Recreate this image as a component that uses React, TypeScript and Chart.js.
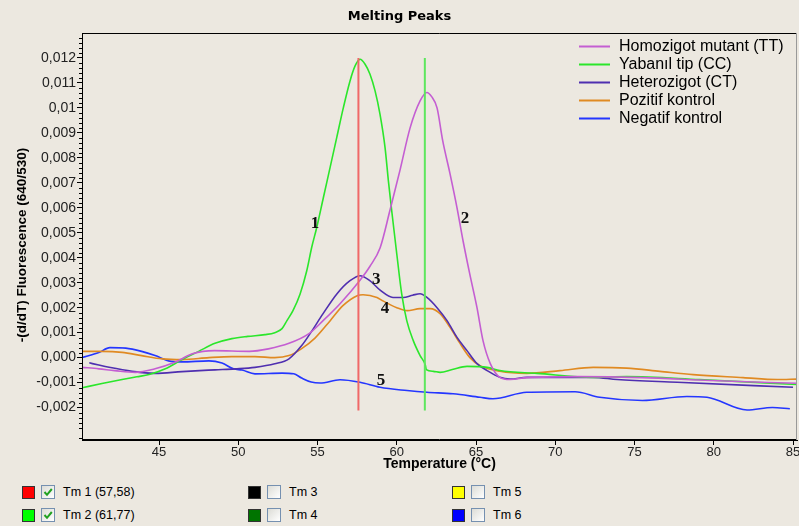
import React, { useEffect, useRef } from "react";
import { Chart, registerables } from "chart.js";

Chart.register(...registerables);

// ---------- axis data ----------
const xMin = 40.14;
const xMax = 85.25;
const yMin = -0.0033;
const yMax = 0.013;
const xTicks = [45, 50, 55, 60, 65, 70, 75, 80, 85];
const yTickValues = [-0.002, -0.001, 0, 0.001, 0.002, 0.003, 0.004, 0.005, 0.006, 0.007, 0.008, 0.009, 0.01, 0.011, 0.012];
const yTickLabels = ["-0,002", "-0,001", "0,000", "0,001", "0,002", "0,003", "0,004", "0,005", "0,006", "0,007", "0,008", "0,009", "0,01", "0,011", "0,012"];

// ---------- series ----------
const seriesNames = ["Homozigot mutant (TT)", "Yabanıl tip (CC)", "Heterozigot (CT)", "Pozitif kontrol", "Negatif kontrol"];
const seriesColors = ["#C45ED2", "#2BE62B", "#4F2FB0", "#E08A22", "#2436FF"];

const homozigotT = [40.14, 41.2, 42.2, 43.5, 44.75, 46.0, 47.1, 48.5, 50.7, 51.9, 53.2, 54.46, 55.35, 56.42, 57.68, 58.3, 58.95, 59.57, 60.2, 60.84, 61.47, 61.9, 62.2, 62.54, 62.9, 63.36, 63.8, 64.18, 64.6, 65.06, 65.44, 65.9, 66.5, 67.15, 68.2, 71.4, 75.5, 79.8, 85.25];
const homozigotV = [-0.00039, -0.00045, -0.00052, -0.00059, -0.00045, -0.00019, 0.00015, 0.00028, 0.00025, 0.00035, 0.00057, 0.00096, 0.00148, 0.00216, 0.0031, 0.00365, 0.0044, 0.0059, 0.0075, 0.0092, 0.01028, 0.01062, 0.01045, 0.01, 0.00868, 0.00736, 0.006, 0.00468, 0.00336, 0.002, 0.00068, -0.00024, -0.00079, -0.00088, -0.0008, -0.00076, -0.0008, -0.00092, -0.00103];

const yabanilT = [40.14, 41.4, 42.67, 43.6, 44.37, 45.4, 46.45, 47.5, 48.53, 49.6, 50.6, 51.69, 52.3, 52.76, 53.07, 53.45, 53.9, 54.32, 54.63, 54.95, 55.37, 55.79, 56.21, 56.63, 57.05, 57.37, 57.68, 58.0, 58.31, 58.63, 58.94, 59.26, 59.47, 59.68, 60.0, 60.31, 60.63, 61.04, 61.47, 61.8, 61.86, 62.3, 62.73, 63.5, 64.43, 65.7, 66.5, 68.85, 72.4, 74.5, 79.1, 85.25];
const yabanilV = [-0.00121, -0.00104, -0.00088, -0.00077, -0.00068, -0.00045, -0.00008, 0.00025, 0.00057, 0.00076, 0.00085, 0.00092, 0.001, 0.00116, 0.00148, 0.00188, 0.00255, 0.00348, 0.00441, 0.00521, 0.00641, 0.00761, 0.00881, 0.01001, 0.01108, 0.01168, 0.01195, 0.01175, 0.01135, 0.01068, 0.00975, 0.00841, 0.00708, 0.00588, 0.00415, 0.00255, 0.00148, 0.00068, 0.00008, -0.0003, -0.00048, -0.00055, -0.00059, -0.00048, -0.00035, -0.00039, -0.00052, -0.00063, -0.00079, -0.00076, -0.00088, -0.00108];

const heterozigotT = [40.6, 41.2, 41.85, 43.3, 44.75, 46.45, 48.53, 49.8, 51.05, 52.3, 53.2, 54.0, 54.53, 55.35, 56.23, 57.05, 57.68, 58.3, 58.95, 59.76, 60.4, 61.0, 61.47, 61.9, 62.54, 63.17, 63.8, 64.43, 65.06, 65.7, 66.5, 67.15, 68.2, 72.4, 73.9, 77.7, 85.0];
const heterozigotV = [-0.00021, -0.0003, -0.00039, -0.00055, -0.00063, -0.00056, -0.00049, -0.00045, -0.00039, -0.00025, -0.00005, 0.00048, 0.00096, 0.00176, 0.00256, 0.00308, 0.00328, 0.00308, 0.0027, 0.00241, 0.00241, 0.0025, 0.00256, 0.00241, 0.002, 0.00148, 0.00081, 0.00028, -0.00024, -0.00052, -0.00079, -0.00086, -0.00079, -0.00079, -0.00088, -0.00099, -0.00119];

const pozitifT = [40.14, 41.4, 42.67, 43.9, 45.2, 46.45, 48.15, 49.6, 51.05, 52.3, 53.2, 54.0, 54.84, 55.8, 56.6, 57.5, 57.87, 58.75, 59.1, 60.0, 60.65, 61.47, 62.1, 62.73, 63.36, 64.0, 64.6, 65.25, 66.5, 68.2, 70.3, 72.4, 74.5, 76.6, 78.7, 81.85, 84.0, 85.25];
const pozitifV = [0.00025, 0.00025, 0.00021, 0.00008, -0.00005, -0.00008, 0.0, 0.00004, 0.00004, 0.0, 0.00008, 0.00036, 0.00078, 0.00148, 0.00208, 0.00248, 0.00252, 0.00241, 0.00228, 0.002, 0.00188, 0.00196, 0.00196, 0.00176, 0.00121, 0.00056, 0.00001, -0.00032, -0.00055, -0.00063, -0.00052, -0.00039, -0.00042, -0.00055, -0.00068, -0.0008, -0.00088, -0.00086];

const negatifT = [40.14, 41.2, 41.9, 42.9, 43.9, 44.75, 45.6, 46.45, 48.15, 48.97, 49.7, 50.24, 51.05, 52.76, 53.5, 54.0, 54.6, 55.16, 56.42, 57.68, 58.94, 60.65, 61.9, 63.55, 65.25, 66.07, 68.2, 71.25, 72.8, 75.5, 78.3, 79.57, 82.1, 83.7, 84.8];
const negatifV = [0.0, 0.0002, 0.0004, 0.00038, 0.00025, 0.00008, -0.00013, -0.00017, -0.00013, -0.00022, -0.00045, -0.0005, -0.00065, -0.00062, -0.00065, -0.00082, -0.00098, -0.00102, -0.00089, -0.00099, -0.00119, -0.00132, -0.00139, -0.00145, -0.00159, -0.00165, -0.00139, -0.00137, -0.00159, -0.00172, -0.00156, -0.00159, -0.0021, -0.002, -0.00205];

const seriesT = [homozigotT, yabanilT, heterozigotT, pozitifT, negatifT];
const seriesV = [homozigotV, yabanilV, heterozigotV, pozitifV, negatifV];

// ---------- Tm markers ----------
const tmTemps = [57.58, 61.77];
const tmColors = ["#F06868", "#5EE65E"];
const tmLineTop = 0.012;
const tmLineBottom = -0.00212;

// ---------- peak numbers ----------
const peakLabels = ["1", "2", "3", "4", "5"];
const peakLabelT = [54.84, 64.3, 58.7, 59.26, 59.0];
const peakLabelV = [0.00536, 0.00556, 0.00312, 0.00196, -0.00092];

// ---------- bottom Tm legend ----------
const tmNames = ["Tm 1 (57,58)", "Tm 2 (61,77)", "Tm 3", "Tm 4", "Tm 5", "Tm 6"];
const tmSwatches = ["#FF0000", "#00FF00", "#000000", "#007400", "#FFFF00", "#0000FF"];
const tmChecked = [true, true, false, false, false, false];

const SANS = '"Liberation Sans", Arial, Helvetica, sans-serif';

const decorPlugin = {
  id: "decor",
  afterDatasetsDraw(chart: any) {
    const { ctx, chartArea: a, scales } = chart;
    const xs = scales.x;
    const ys = scales.y;
    ctx.save();
    // peak numbers
    ctx.font = 'bold 17px "Liberation Serif", "Times New Roman", serif';
    ctx.fillStyle = "#111";
    ctx.textAlign = "center";
    ctx.textBaseline = "middle";
    peakLabels.forEach((s, i) => {
      ctx.fillText(s, xs.getPixelForValue(peakLabelT[i]), ys.getPixelForValue(peakLabelV[i]));
    });
    // in-plot legend
    ctx.font = "16px " + SANS;
    ctx.textAlign = "left";
    seriesNames.forEach((name, i) => {
      const y = 46 + i * 17.9;
      ctx.strokeStyle = seriesColors[i];
      ctx.lineWidth = 2;
      ctx.beginPath();
      ctx.moveTo(579, Math.round(y) + 0.5);
      ctx.lineTo(610, Math.round(y) + 0.5);
      ctx.stroke();
      ctx.fillStyle = "#000";
      ctx.fillText(name, 619, y + 1);
    });
    // frame
    ctx.strokeStyle = "#000";
    ctx.lineWidth = 1;
    ctx.beginPath();
    ctx.moveTo(a.left + 0.5, a.bottom);
    ctx.lineTo(a.left + 0.5, a.top + 0.5);
    ctx.lineTo(a.right, a.top + 0.5);
    ctx.moveTo(a.left, a.bottom - 0.5);
    ctx.lineTo(a.right, a.bottom - 0.5);
    ctx.stroke();
    ctx.strokeStyle = "#999";
    ctx.beginPath();
    ctx.moveTo(a.right - 0.5, a.top);
    ctx.lineTo(a.right - 0.5, a.bottom);
    ctx.stroke();
    // minor ticks on y axis
    ctx.strokeStyle = "#000";
    ctx.beginPath();
    for (let k = -16; k <= 64; k++) {
      if (k % 5 === 0) continue;
      const py = Math.round(ys.getPixelForValue(k * 0.0002)) + 0.5;
      if (py < a.top || py > a.bottom) continue;
      ctx.moveTo(a.left - 3, py);
      ctx.lineTo(a.left, py);
    }
    ctx.stroke();
    // title
    ctx.font = 'bold 13px "DejaVu Sans", Verdana, sans-serif';
    ctx.fillStyle = "#000";
    ctx.textAlign = "center";
    ctx.fillText("Melting Peaks", chart.width / 2, 17);
    // y axis title
    ctx.translate(22, 245);
    ctx.rotate(-Math.PI / 2);
    ctx.font = "bold 13.5px " + SANS;
    ctx.fillText("-(d/dT) Fluorescence (640/530)", 0, 0);
    ctx.restore();
  },
};

function MeltChart() {
  const ref = useRef<HTMLCanvasElement | null>(null);
  useEffect(() => {
    if (!ref.current) return;
    const datasets: any[] = [];
    tmTemps.forEach((t, i) => {
      datasets.push({
        label: "Tm" + (i + 1),
        data: [{ x: t, y: tmLineTop }, { x: t, y: tmLineBottom }],
        borderColor: tmColors[i],
        borderWidth: 2,
        pointRadius: 0,
        tension: 0,
        fill: false,
        order: 0,
      });
    });
    seriesNames.forEach((name, i) => {
      datasets.push({
        label: name,
        data: seriesT[i].map((t, j) => ({ x: t, y: seriesV[i][j] })),
        borderColor: seriesColors[i],
        borderWidth: 1.6,
        pointRadius: 0,
        cubicInterpolationMode: "monotone",
        fill: false,
        order: 1 + i,
      });
    });
    const chart = new Chart(ref.current, {
      type: "line",
      data: { datasets },
      options: {
        animation: false,
        responsive: false,
        events: [],
        layout: { padding: { top: 33, right: 2, left: 0, bottom: 0 } },
        plugins: { legend: { display: false }, tooltip: { enabled: false }, title: { display: false } },
        scales: {
          x: {
            type: "linear",
            min: xMin,
            max: xMax,
            afterBuildTicks: (s: any) => {
              s.ticks = xTicks.map((v) => ({ value: v }));
            },
            afterFit: (s: any) => {
              s.height = 36;
              s.paddingLeft = 0;
              s.paddingRight = 0;
            },
            ticks: {
              font: { family: SANS, size: 13 },
              color: "#222",
              padding: 0,
              maxRotation: 0,
              autoSkip: false,
              callback: (v: any) => String(v),
            },
            grid: { drawOnChartArea: false, drawTicks: true, tickLength: 5, color: "#000" },
            border: { display: true, color: "#000" },
            title: {
              display: true,
              text: "Temperature (°C)",
              font: { family: SANS, size: 14, weight: "bold" },
              color: "#000",
              padding: { top: 0, bottom: 3.5 },
            },
          },
          y: {
            type: "linear",
            min: yMin,
            max: yMax,
            afterBuildTicks: (s: any) => {
              s.ticks = yTickValues.map((v) => ({ value: v }));
            },
            afterFit: (s: any) => {
              s.width = 82;
              s.paddingTop = 0;
              s.paddingBottom = 0;
            },
            ticks: {
              font: { family: SANS, size: 14 },
              color: "#222",
              padding: 1,
              autoSkip: false,
              callback: (_v: any, i: number) => yTickLabels[i],
            },
            grid: { drawOnChartArea: false, drawTicks: true, tickLength: 5, color: "#000" },
            border: { display: true, color: "#000" },
          },
        },
      },
      plugins: [decorPlugin],
    } as any);
    return () => chart.destroy();
  }, []);
  return <canvas ref={ref} width={799} height={476} style={{ display: "block", width: 799, height: 476 }} />;
}

function TmLegend() {
  const cols = [22, 248, 452];
  const rows = [485, 508];
  return (
    <>
      {tmNames.map((name, i) => {
        const x = cols[Math.floor(i / 2)];
        const y = rows[i % 2];
        return (
          <div key={name} style={{ position: "absolute", left: x, top: y, height: 14, display: "flex", alignItems: "center" }}>
            <div style={{ width: 13, height: 13, background: tmSwatches[i], border: "1px solid #333", boxSizing: "border-box" }} />
            <div
              style={{
                marginLeft: 6,
                width: 14,
                height: 14,
                background: "linear-gradient(135deg,#dcdcd6,#ffffff)",
                border: "1px solid #7590B0",
                boxSizing: "border-box",
                position: "relative",
              }}
            >
              {tmChecked[i] ? (
                <svg width="12" height="12" style={{ position: "absolute", left: 0, top: 0 }}>
                  <path d="M2.5 6 L5 8.8 L9.8 3" stroke="#21A121" strokeWidth="2" fill="none" />
                </svg>
              ) : null}
            </div>
            <span style={{ marginLeft: 8, font: "12.5px " + SANS, color: "#000", whiteSpace: "nowrap" }}>{name}</span>
          </div>
        );
      })}
    </>
  );
}

export default function App() {
  return (
    <div
      style={{
        position: "absolute",
        left: 0,
        top: 0,
        width: 799,
        height: 526,
        background: "#ECE8E0",
        overflow: "hidden",
      }}
    >
      <MeltChart />
      <TmLegend />
    </div>
  );
}
